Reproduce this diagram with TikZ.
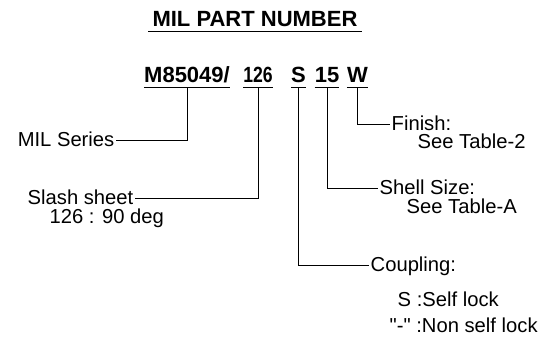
\documentclass[tikz,border=0pt]{standalone}
\usepackage{fontspec}
\setmainfont{Liberation Sans}[Ligatures=TeXOff]
\usepackage{graphicx}

\begin{document}
\begin{tikzpicture}[x=1pt, y=-1pt,
    lbl/.style={font=\fontsize{20.2}{23}\selectfont, inner xsep=1.5pt, inner ysep=0pt,
                text height=14pt, text depth=2pt},
    part/.style={font=\bfseries\fontsize{22}{26}\selectfont, anchor=base, inner xsep=0pt,
                 inner ysep=0pt, text height=16pt, text depth=5pt},
    lead/.style={line width=1pt},
    uline/.style={line width=1.3pt}]
  \useasboundingbox (0,0) rectangle (557,340);

  % Title
  \node[part, inner xsep=4pt] (title) at (255,26) {MIL PART NUMBER};
  \draw[uline] (title.south west) -- (title.south east);

  % Part number, one node per field
  \node[part] (mil)   at (187,82) {M85049/};
  \node[part] (slash) at (258,82) {\scalebox{0.8}[1]{126}};
  \node[part] (cpl)   at (298.5,82) {S};
  \node[part] (size)  at (327,82) {15};
  \node[part] (fin)   at (357.5,82) {W};
  \foreach \f in {mil, slash, cpl, size, fin}
    \draw[uline] (\f.south west) -- (\f.south east);

  % Left side
  \node[lbl, anchor=east] (series) at (116,140) {MIL Series};
  \node[lbl, anchor=east] (sheet)  at (135,198) {Slash sheet};
  \node[lbl, anchor=west] (angle)  at (48,217)  {126 : 90 deg};

  % Right side
  \node[lbl, anchor=west] (finish)   at (390,124) {Finish:};
  \node[lbl, anchor=west] (tab2)     at (416,142) {See Table-2};
  \node[lbl, anchor=west] (shell)    at (378,188) {Shell Size:};
  \node[lbl, anchor=west] (tabA)     at (405,207) {See Table-A};
  \node[lbl, anchor=west] (coupling) at (369,265) {Coupling:};
  \node[lbl, anchor=west] (lockS)    at (396,300.5) {S :Self lock};
  \node[lbl, anchor=west] (lockN)    at (388,326.5) {"-" :Non self lock};

  % Leaders
  \draw[lead] (mil.south)   |- (series.east);
  \draw[lead] (slash.south) |- (sheet.east);
  \draw[lead] (cpl.south)   |- (coupling.west);
  \draw[lead] (size.south)  |- (shell.west);
  \draw[lead] (fin.south)   |- (finish.west);
\end{tikzpicture}
\end{document}
